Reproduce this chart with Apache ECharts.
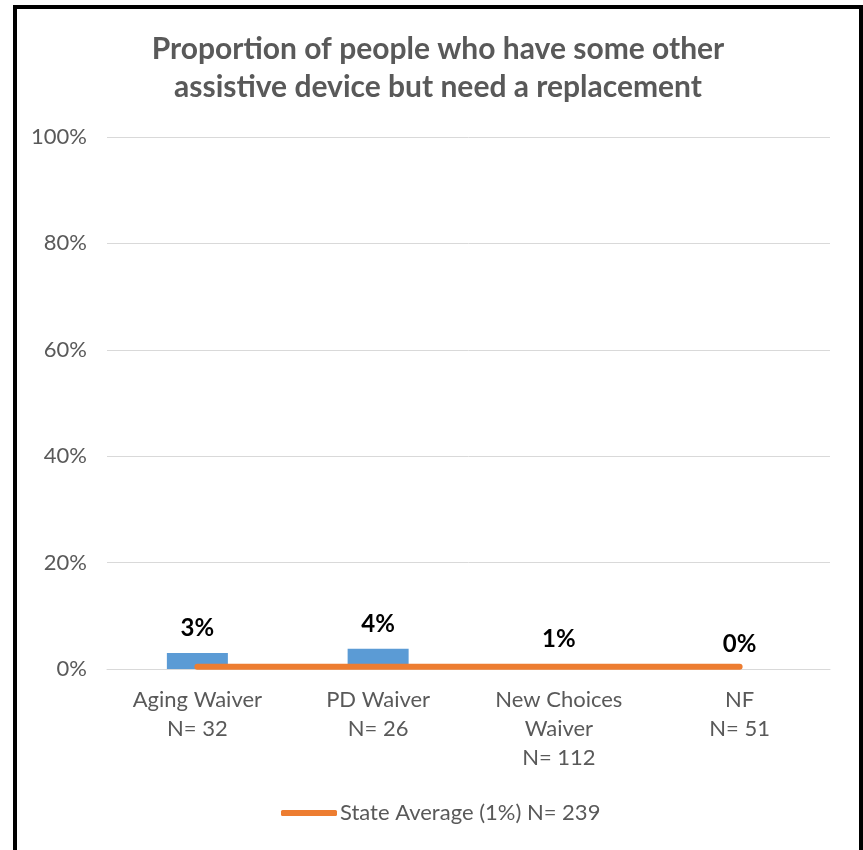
<!DOCTYPE html>
<html><head><meta charset="utf-8">
<script src="https://cdn.jsdelivr.net/npm/echarts@6/dist/echarts.min.js"></script>
<style>
html,body{margin:0;padding:0;background:#fff;overflow:hidden;width:863px;height:850px;}
#chart{position:absolute;left:0;top:0;width:863px;height:850px;}
#frame{position:absolute;left:13px;top:5px;width:850px;height:900px;box-sizing:border-box;border:4px solid #000;pointer-events:none;}
</style></head>
<body>
<div id="chart"></div>
<div id="frame"></div>
<script>
const titleText = 'Proportion of people who have some other\nassistive device but need a replacement';
const categories = ['Aging Waiver\nN= 32', 'PD Waiver\nN= 26', 'New Choices\nWaiver\nN= 112', 'NF\nN= 51'];
const programValues = [3.0, 3.8, 0.9, 0.0];
const stateAverageName = 'State Average (1%) N= 239';
const stateAverage = [0.4, 0.4, 0.4, 0.4];
const yTicks = [0, 20, 40, 60, 80, 100];

const FONT = 'Lato';
const chart = echarts.init(document.getElementById('chart'));
chart.setOption({
  animation: false,
  backgroundColor: 'transparent',
  title: {
    text: titleText,
    left: 433, top: 25, textAlign: 'center',
    textStyle: {fontFamily: FONT, fontSize: 30, fontWeight: 'bold', color: '#595959', lineHeight: 38}
  },
  grid: {left: 107, right: 33, top: 137, bottom: 181, containLabel: false},
  legend: {
    data: [stateAverageName],
    left: 276, bottom: 21,
    icon: 'roundRect', itemWidth: 56, itemHeight: 6, itemGap: 4,
    textStyle: {fontFamily: FONT, fontSize: 22, color: '#595959', padding: [0,0,0,-2]}
  },
  xAxis: {
    type: 'category', data: categories,
    axisTick: {show: false},
    axisLine: {lineStyle: {color: '#D9D9D9', width: 1}},
    axisLabel: {fontFamily: FONT, fontSize: 22, color: '#595959', lineHeight: 29, margin: 16, interval: 0}
  },
  yAxis: {
    type: 'value', min: yTicks[0], max: yTicks[yTicks.length-1], interval: 20,
    axisLine: {show: false}, axisTick: {show: false},
    splitLine: {lineStyle: {color: '#D9D9D9', width: 1}},
    axisLabel: {fontFamily: FONT, fontSize: 22, color: '#595959', margin: 20, formatter: v => v + '%'}
  },
  series: [
    {
      name: 'Programs', type: 'bar', data: programValues, barWidth: 61,
      itemStyle: {color: '#5B9BD5'},
      label: {show: true, position: 'top', distance: 13, fontFamily: FONT, fontSize: 24, fontWeight: 'bold', color: '#000',
        formatter: p => Math.round(p.value) + '%'},
      z: 2
    },
    {
      name: stateAverageName, type: 'line', data: stateAverage,
      showSymbol: false, symbol: 'none',
      lineStyle: {color: '#ED7D31', width: 6, cap: 'round'},
      itemStyle: {color: '#ED7D31'},
      z: 3
    }
  ]
});
</script>
</body></html>
